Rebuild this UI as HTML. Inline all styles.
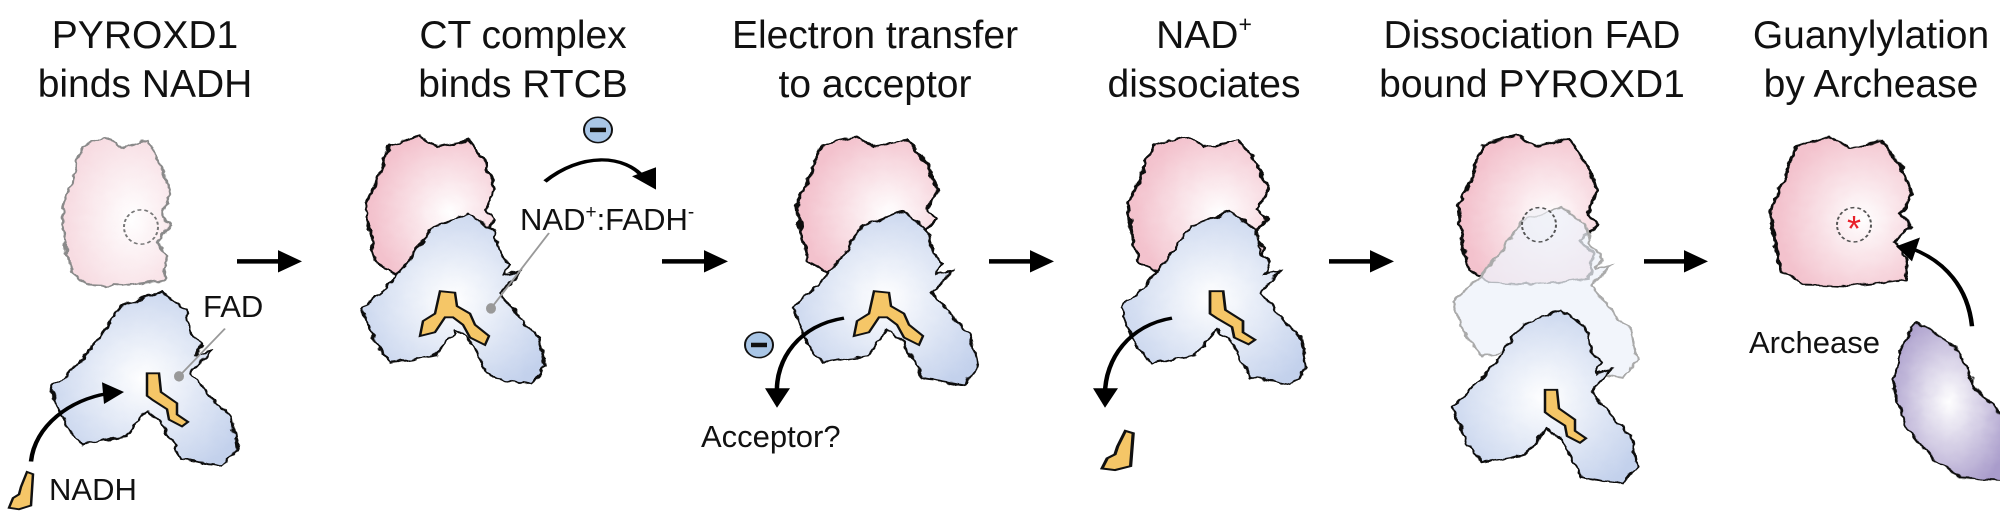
<!DOCTYPE html>
<html><head><meta charset="utf-8"><style>
html,body{margin:0;padding:0;background:#fff}
svg{display:block}
text{font-family:"Liberation Sans",Arial,sans-serif;fill:#111}
</style></head><body>
<svg width="2000" height="513" viewBox="0 0 2000 513" xmlns="http://www.w3.org/2000/svg">
<defs>
<filter id="w" x="-10%" y="-10%" width="120%" height="120%">
<feTurbulence type="fractalNoise" baseFrequency="0.09" numOctaves="2" seed="3"/>
<feDisplacementMap in="SourceGraphic" scale="8" xChannelSelector="R" yChannelSelector="G"/>
</filter>
<radialGradient id="gp" cx="0.65" cy="0.55" r="0.6"><stop offset="0" stop-color="#fff"/><stop offset="1" stop-color="#f3c2cd"/></radialGradient>
<radialGradient id="gp1" cx="0.65" cy="0.55" r="0.6"><stop offset="0" stop-color="#fff"/><stop offset="1" stop-color="#f7dce2"/></radialGradient>
<radialGradient id="gb" cx="0.5" cy="0.5" r="0.6"><stop offset="0" stop-color="#fff"/><stop offset="1" stop-color="#c3d1ec"/></radialGradient>
<radialGradient id="gv" cx="0.5" cy="0.5" r="0.6"><stop offset="0" stop-color="#fff"/><stop offset="1" stop-color="#a99ccb"/></radialGradient>
<path id="pink" d="M20,12 L45,0 L60,15 L85,5 L100,40 L108,75 L100,105 L108,120 L95,140 L105,160 L102,192 L60,200 L25,198 L8,180 L3,140 L0,95 L10,60 L15,30 Z"/>
<path id="blue" d="M70,20 L110,0 L135,25 L140,55 L150,70 L145,85 L160,80 L140,110 L165,150 L180,170 L186,210 L172,235 L130,225 L110,175 L95,160 L75,195 L30,205 L15,180 L0,130 L25,100 L50,60 Z"/>
<path id="lz" d="M0,0 L12,0 L14,25 L30,40 L30,55 L41,65 L35,71 L22,62 L20,48 L6,36 L0,30 Z"/>
<path id="la" d="M25,0 L40,2 L42,20 L55,30 L60,45 L74,60 L70,72 L55,62 L48,45 L38,35 L30,35 L20,55 L5,60 L8,40 L20,30 Z"/>
<path id="ln" d="M18,0 L24,3 L22,45 L10,50 L0,48 L4,35 L10,30 L12,20 Z"/>
</defs>
<g transform="scale(1,0.7467)">

<!-- horizontal arrows -->
<g stroke="#000" stroke-width="6" fill="#000">
<line x1="237" y1="350" x2="280" y2="350"/><path d="M278,335 L302,350 L278,365 Z" stroke="none"/>
<line x1="662" y1="350" x2="706" y2="350"/><path d="M704,335 L728,350 L704,365 Z" stroke="none"/>
<line x1="989" y1="350" x2="1032" y2="350"/><path d="M1030,335 L1054,350 L1030,365 Z" stroke="none"/>
<line x1="1329" y1="350" x2="1372" y2="350"/><path d="M1370,335 L1394,350 L1370,365 Z" stroke="none"/>
<line x1="1644" y1="350" x2="1686" y2="350"/><path d="M1684,335 L1708,350 L1684,365 Z" stroke="none"/>
</g>

<!-- Panel 1 -->
<g filter="url(#w)">
<use href="#pink" transform="translate(62,183)" fill="url(#gp1)" stroke="#8a8a8a" stroke-width="2.5"/>
<use href="#blue" transform="translate(51,390)" fill="url(#gb)" stroke="#111" stroke-width="2.5"/>
</g>
<ellipse cx="141" cy="304" rx="17" ry="23" fill="none" stroke="#777" stroke-width="2" stroke-dasharray="4,3"/>
<use href="#lz" transform="translate(147,500)" fill="#f5c667" stroke="#111" stroke-width="2.5"/>
<line x1="179" y1="504" x2="225" y2="440" stroke="#999" stroke-width="2"/><ellipse cx="179" cy="504" rx="5" ry="7" fill="#999"/>
<use href="#ln" transform="translate(9,632)" fill="#f5c667" stroke="#111" stroke-width="2.5"/>
<path d="M31,618 C35,570 70,535 108,527" fill="none" stroke="#000" stroke-width="4.5"/>
<path d="M102,512 L124,525 L104,541 Z" fill="#000"/>

<!-- Panel 2 -->
<g filter="url(#w)">
<use href="#pink" transform="translate(366,183) scale(1.2,0.93)" fill="url(#gp)" stroke="#111" stroke-width="2.5"/>
<use href="#blue" transform="translate(362,286) scale(0.985,0.975)" fill="url(#gb)" stroke="#111" stroke-width="2.5"/>
</g>
<use href="#la" transform="translate(415,390)" fill="#f5c667" stroke="#111" stroke-width="2.5"/>
<line x1="491" y1="413" x2="549" y2="312" stroke="#999" stroke-width="2"/><ellipse cx="491" cy="413" rx="5" ry="7" fill="#999"/>
<ellipse cx="598" cy="174" rx="14" ry="17" fill="#a9c6e6" stroke="#111" stroke-width="2"/><rect x="590" y="171" width="16" height="6" fill="#111"/>
<path d="M545,243 C580,205 625,205 645,240" fill="none" stroke="#000" stroke-width="4.5"/>
<path d="M632,236 L656,254 L656,224 Z" fill="#000"/>

<!-- Panel 3 -->
<g filter="url(#w)">
<use href="#pink" transform="translate(797,183) scale(1.3,0.93)" fill="url(#gp)" stroke="#111" stroke-width="2.5"/>
<use href="#blue" transform="translate(793,283) scale(0.995,0.99)" fill="url(#gb)" stroke="#111" stroke-width="2.5"/>
</g>
<use href="#la" transform="translate(849,390)" fill="#f5c667" stroke="#111" stroke-width="2.5"/>
<ellipse cx="759" cy="462" rx="14" ry="17" fill="#a9c6e6" stroke="#111" stroke-width="2"/><rect x="751" y="459" width="16" height="6" fill="#111"/>
<path d="M844,426 C800,435 775,480 777,528" fill="none" stroke="#000" stroke-width="4.5"/>
<path d="M765,520 L777,546 L790,520 Z" fill="#000"/>

<!-- Panel 4 -->
<g filter="url(#w)">
<use href="#pink" transform="translate(1128,183) scale(1.3,0.93)" fill="url(#gp)" stroke="#111" stroke-width="2.5"/>
<use href="#blue" transform="translate(1121,283) scale(0.995,0.99)" fill="url(#gb)" stroke="#111" stroke-width="2.5"/>
</g>
<use href="#lz" transform="translate(1210,390) scale(1.1,1)" fill="#f5c667" stroke="#111" stroke-width="2.5"/>
<path d="M1172,426 C1130,435 1105,480 1105,528" fill="none" stroke="#000" stroke-width="4.5"/>
<path d="M1093,520 L1105,546 L1118,520 Z" fill="#000"/>
<use href="#ln" transform="translate(1102,577) scale(1.3,1.05)" fill="#f5c667" stroke="#111" stroke-width="2.5"/>

<!-- Panel 5 -->
<g filter="url(#w)">
<use href="#pink" transform="translate(1458,181) scale(1.29,1)" fill="url(#gp)" stroke="#111" stroke-width="2.5"/>
<use href="#blue" transform="translate(1452,277) scale(0.995,0.975)" fill="#edf1f9" fill-opacity="0.75" stroke="#aaa" stroke-width="2.5"/>
<use href="#blue" transform="translate(1452,415) scale(0.995,0.995)" fill="url(#gb)" stroke="#111" stroke-width="2.5"/>
</g>
<ellipse cx="1539" cy="301" rx="17" ry="23" fill="#eef0f6" fill-opacity="0.6" stroke="#555" stroke-width="2" stroke-dasharray="4,3"/>
<use href="#lz" transform="translate(1545,522)" fill="#f5c667" stroke="#111" stroke-width="2.5"/>

<!-- Panel 6 -->
<g filter="url(#w)">
<use href="#pink" transform="translate(1771,183) scale(1.3,1)" fill="url(#gp)" stroke="#111" stroke-width="2.5"/>
<path d="M1915,431 L1935,445 L1960,470 L1975,520 L2005,560 L2005,643 L1960,640 L1930,610 L1905,570 L1894,520 L1900,470 Z" fill="url(#gv)" stroke="#111" stroke-width="2.5"/>
</g>
<ellipse cx="1854" cy="301" rx="17" ry="23" fill="none" stroke="#555" stroke-width="2" stroke-dasharray="4,3"/>
<path d="M1972,437 C1968,385 1945,350 1912,333" fill="none" stroke="#000" stroke-width="4.5"/>
<path d="M1920,318 L1896,330 L1912,350 Z" fill="#000"/>
</g>

<!-- Text (unscaled) -->
<g font-size="39" text-anchor="middle">
<text x="145" y="48">PYROXD1</text><text x="145" y="97">binds NADH</text>
<text x="523" y="48">CT complex</text><text x="523" y="97">binds RTCB</text>
<text x="875" y="48">Electron transfer</text><text x="875" y="97">to acceptor</text>
<text x="1204" y="48">NAD<tspan font-size="23" dy="-16">+</tspan></text><text x="1204" y="97">dissociates</text>
<text x="1532" y="48">Dissociation FAD</text><text x="1532" y="97">bound PYROXD1</text>
<text x="1871" y="48">Guanylylation</text><text x="1871" y="97">by Archease</text>
</g>
<text x="203" y="317" font-size="31">FAD</text>
<text x="49" y="500" font-size="31">NADH</text>
<text x="520" y="230" font-size="31">NAD<tspan font-size="19" dy="-12">+</tspan><tspan dy="12">:FADH</tspan><tspan font-size="19" dy="-12">-</tspan></text>
<text x="701" y="447" font-size="31">Acceptor?</text>
<text x="1749" y="353" font-size="31">Archease</text>
<text x="1854" y="241" font-size="36" text-anchor="middle" style="fill:#e8202a">*</text>
</svg>
</body></html>
